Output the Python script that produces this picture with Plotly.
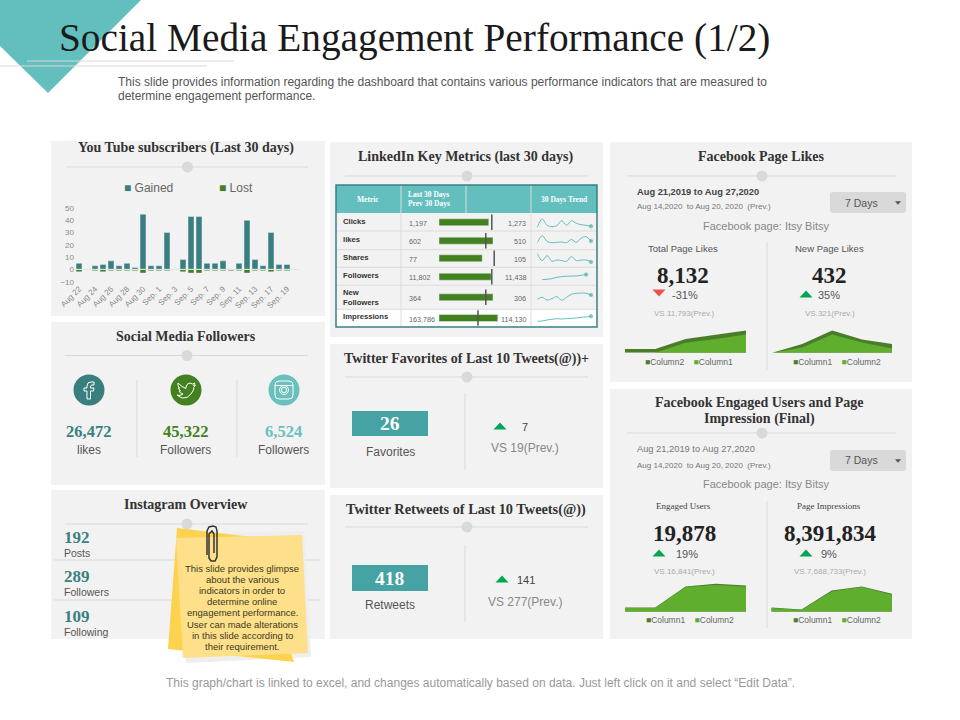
import plotly.graph_objects as go

SANS = "Liberation Sans"
SERIF = "Liberation Serif"
TEAL = "#62bfbd"
DTEAL = "#3a7f80"
GREEN = "#43801f"
LGREEN = "#5fae2e"
PANEL = "#f2f2f2"

# --- youtube
yt_days = ["Aug 22", "Aug 23", "Aug 24", "Aug 25", "Aug 26", "Aug 27", "Aug 28", "Aug 29", "Aug 30", "Aug 31",
           "Sep. 1", "Sep. 2", "Sep. 3", "Sep. 4", "Sep. 5", "Sep. 6", "Sep. 7", "Sep. 8", "Sep. 9", "Sep. 10",
           "Sep. 11", "Sep. 12", "Sep. 13", "Sep. 16", "Sep. 17", "Sep. 18", "Sep. 19"]
yt_gained = [5, 0, 3, 4, 7, 3, 5, 1.5, 45, 3, 3, 30, 0, 8, 43, 43, 5, 5, 7, 0, 5, 40, 8, 3, 30, 4, 4]
yt_lost = [-2, 0, -1, -2, -1, -1, -1, -1, -3, -1, -1, -1, 0, -2, -3, -3, -1, -1, -1, -1, -1, -3, -1, -1, -2, -1, -1]
yt_yticks = [-10, 0, 10, 20, 30, 40, 50]

# --- linkedin table
li_metrics = ["Clicks", "likes", "Shares", "Followers", "New<br>Followers", "Impressions"]
li_last = ["1,197", "602", "77", "11,802", "364", "163,786"]
li_prev = ["1,273", "510", "105", "11,438", "306", "114,130"]
li_fill = [83, 90, 72, 87, 90, 98]
li_mark = [88, 78, 92, 88, 78, 65]
li_trends = [
    [3.7, 12, 5.7, 4.3, 5.3, 10.3, 5.7, 10.3, 7.7, 6.3, 5.7, 4.7],
    [7, 14, 8.3, 7, 7.3, 7.7, 7, 10.3, 7.3, 11.7, 13, 8.7],
    [13.7, 6.7, 11.7, 6, 7.3, 6.7, 6, 10.7, 6.7, 7.3, 7.3, 5.3],
    [None, 5.7, 6, 6.7, 8, 8.7, 9, 9.3, 9.3, 10, 10.7, None],
    [10, 12, 9.3, 10.7, 12.7, 9, 12, 15, 16, 16.3, 16, 14.3],
    [5.7, 6, 7, 7.7, 8.3, 8, 8.3, 8.7, 9, 9.7, 10, 10.7],
]

# --- facebook mini areas
area_days = [0, 1, 2, 3, 4]
likes_total_dark = [3.7, 3.7, 13.7, 17.7, 22.3]
likes_total_light = [0, 0, 10, 13.7, 18.3]
likes_new_dark = [0, 8.7, 22.3, 13.3, 8.7]
likes_new_light = [0, 5.3, 18.3, 10.3, 4.3]
engaged_dark = [4.3, 4.3, 25.3, 28, 26.3]
engaged_light = [3.7, 3.7, 24.7, 26.7, 25.3]
impress_dark = [4.3, 2.3, 21.3, 25.3, 18]
impress_light = [3.7, 1.7, 20.3, 24.7, 17]

followers_vals = ["26,472", "45,322", "6,524"]
followers_lbls = ["likes", "Followers", "Followers"]
insta_vals = ["192", "289", "109"]
insta_lbls = ["Posts", "Followers", "Following"]
note_lines = ["This slide provides glimpse", "about the various", "indicators in order to", "determine online",
              "engagement performance.", "User can made alterations", "in this slide according to",
              "their requirement."]


def X(p):
    return p / 960


def Y(p):
    return 1 - p / 720


fig = go.Figure()
shapes = []
notes = []


def txt(x, y, s, size=10, color="#444", anchor="center", font=SANS, bold=False):
    if bold:
        s = f"<b>{s}</b>"
    notes.append(dict(x=X(x), y=Y(y), xref="paper", yref="paper", text=s, showarrow=False, xanchor=anchor,
                      yanchor="middle", align=anchor, borderpad=0,
                      font=dict(family=font, size=size, color=color)))


def rect(x0, y0, x1, y1, fill):
    shapes.append(dict(type="rect", xref="paper", yref="paper", x0=X(x0), x1=X(x1), y0=Y(y0), y1=Y(y1),
                       fillcolor=fill, line_width=0, layer="below"))


def line(x0, y0, x1, y1, color="#d9d9d9", width=1, layer="below"):
    shapes.append(dict(type="line", xref="paper", yref="paper", x0=X(x0), x1=X(x1), y0=Y(y0), y1=Y(y1),
                       line=dict(color=color, width=width), layer=layer))


def circle(cx, cy, r, fill=None, stroke=None, width=1, layer="below"):
    shapes.append(dict(type="circle", xref="paper", yref="paper", x0=X(cx - r), x1=X(cx + r), y0=Y(cy - r),
                       y1=Y(cy + r), fillcolor=fill or "rgba(0,0,0,0)",
                       line=dict(color=stroke or "rgba(0,0,0,0)", width=width), layer=layer))


def poly(points, fill=None, stroke=None, width=1, layer="below", close=True):
    d = "M" + " L".join(f"{X(a):.5f},{Y(b):.5f}" for a, b in points) + (" Z" if close else "")
    shapes.append(dict(type="path", xref="paper", yref="paper", path=d, fillcolor=fill or "rgba(0,0,0,0)",
                       line=dict(color=stroke or "rgba(0,0,0,0)", width=width), layer=layer))


def round_box(x0, y0, x1, y1, r, fill=None, stroke=None, width=1):
    d = (f"M{X(x0+r)},{Y(y0)} L{X(x1-r)},{Y(y0)} Q{X(x1)},{Y(y0)} {X(x1)},{Y(y0+r)} L{X(x1)},{Y(y1-r)} "
         f"Q{X(x1)},{Y(y1)} {X(x1-r)},{Y(y1)} L{X(x0+r)},{Y(y1)} Q{X(x0)},{Y(y1)} {X(x0)},{Y(y1-r)} "
         f"L{X(x0)},{Y(y0+r)} Q{X(x0)},{Y(y0)} {X(x0+r)},{Y(y0)} Z")
    shapes.append(dict(type="path", xref="paper", yref="paper", path=d, fillcolor=fill or "rgba(0,0,0,0)",
                       line=dict(color=stroke or "rgba(0,0,0,0)", width=width), layer="below"))


def tri(cx, cy, up=True, w=13, h=7, color="#00a651"):
    if up:
        poly([(cx - w / 2, cy + h / 2), (cx + w / 2, cy + h / 2), (cx, cy - h / 2)], fill=color)
    else:
        poly([(cx - w / 2, cy - h / 2), (cx + w / 2, cy - h / 2), (cx, cy + h / 2)], fill=color)


def head(x0, x1, y):
    line(x0, y, x1, y)
    circle((x0 + x1) / 2 + 0.5, y, 5.5, fill="#d9d9d9")


axis_no = 1


def add_axes(x0, x1, y0, y1, xr, yr):
    global axis_no
    axis_no += 1
    fig.update_layout({
        f"xaxis{axis_no}": dict(domain=[X(x0), X(x1)], range=xr, visible=False, fixedrange=True,
                                anchor=f"y{axis_no}"),
        f"yaxis{axis_no}": dict(domain=[Y(y1), Y(y0)], range=yr, visible=False, fixedrange=True,
                                anchor=f"x{axis_no}"),
    })
    return f"x{axis_no}", f"y{axis_no}"


# header
poly([(0, 0), (141, 0), (48, 93), (0, 46)], fill=TEAL)
line(27, 61, 234, 61)
line(0, 66, 207, 66)
txt(58, 37.5, "Social Media Engagement Performance (1/2)", 39.3, "#1a1a1a", "left", SERIF)
txt(117, 82, "This slide provides information regarding the dashboard that contains various performance indicators that are measured to", 12, "#555", "left")
txt(117, 96, "determine engagement performance.", 12, "#555", "left")
txt(480, 683, "This graph/chart is linked to excel, and changes automatically based on data. Just left click on it and select “Edit Data”.", 12, "#999")

# panels
for box in [(51, 141, 325, 316), (51, 322, 325, 485), (51, 490, 325, 639), (330, 142, 603, 337),
            (330, 344, 603, 488), (330, 495, 603, 639), (610, 142, 912, 382), (610, 389, 912, 639)]:
    rect(*box, PANEL)

# youtube
txt(186, 147.5, "You Tube subscribers (Last 30 days)", 14, "#333", font=SERIF, bold=True)
head(66, 308, 167)
txt(123, 188, f"<span style='color:{DTEAL}'>■</span> Gained", 12, "#666", "left")
txt(218, 188, f"<span style='color:{GREEN}'>■</span> Lost", 12, "#666", "left")
fig.add_trace(go.Bar(x=yt_days, y=yt_gained, width=0.75, marker_color=DTEAL, name="Gained"))
fig.add_trace(go.Bar(x=yt_days, y=yt_lost, width=0.75, marker_color=GREEN, name="Lost"))
fig.update_layout(
    xaxis=dict(domain=[X(75), X(299)], range=[-0.5, 27.5], type="category", categoryorder="array",
               categoryarray=yt_days, tickvals=yt_days[::2], ticktext=yt_days[::2], tickangle=-45,
               showgrid=False, showline=False, ticks="", fixedrange=True,
               tickfont=dict(family=SANS, size=8, color="#8a8a8a"), anchor="y"),
    yaxis=dict(domain=[Y(281.7), Y(208)], range=[-10, 50], tickvals=yt_yticks, showgrid=False, zeroline=False,
               showline=False, ticks="", fixedrange=True, tickfont=dict(family=SANS, size=8, color="#8a8a8a"),
               anchor="x"),
)
shapes.append(dict(type="line", xref="x", yref="y", x0=-0.5, x1=27.5, y0=0, y1=0,
                   line=dict(color="#e3e3e3", width=1), layer="above"))

# social followers
txt(186, 336.5, "Social Media Followers", 14, "#333", font=SERIF, bold=True)
head(65, 308, 355.5)
follower_x = [89, 186, 284]
follower_col = [DTEAL, GREEN, "#69c0bd"]
for cx, col, v, l in zip(follower_x, follower_col, followers_vals, followers_lbls):
    circle(cx, 390, 15.5, fill=col)
    txt(cx - 0.5, 431, v, 16.5, col, font=SERIF, bold=True)
    txt(cx - 0.5, 450, l, 12, "#555")
line(137, 380, 137, 457)
line(237, 380, 237, 457)
fx = 89
poly([(fx + a, 390 + b) for a, b in [(-2, 9), (-2, 1), (-5, 1), (-5, -2), (-2, -2), (-2, -4), (-1, -7), (2, -8),
                                     (5, -8), (5, -5), (3, -5), (1.5, -4), (1.5, -2), (5, -2), (4.5, 1), (1.5, 1),
                                     (1.5, 9)]], stroke="white")
poly([(186 + a, 390 + b) for a, b in [(-9, 5), (-6, 5.5), (-3, 4), (-5.5, 3), (-7, 1), (-5.5, 1), (-8, -2),
                                      (-6.5, -1.8), (-8, -4.5), (-8, -7), (-4, -3.5), (0, -1.5), (0, -3), (1.5, -6),
                                      (4, -7), (6.5, -6), (9, -7), (7.5, -4.5), (9.5, -5), (8, -3), (7.5, 0), (5, 4),
                                      (1, 7.5), (-4, 8)]], stroke="white")
round_box(275, 381, 293, 399, 4, stroke="white")
circle(284, 390, 4.5, stroke="white")
circle(284, 390, 2.7, stroke="white")
line(275, 385.5, 293, 385.5, color="white")

# instagram
txt(186, 504.5, "Instagram Overview", 14, "#333", font=SERIF, bold=True)
head(65, 308, 524)
line(54, 560, 320, 560)
line(54, 600, 320, 600)
for y, v, l in zip([537, 576, 616], insta_vals, insta_lbls):
    txt(63, y, v, 17, DTEAL, "left", SERIF, True)
    txt(63, y + 16, l, 10.5, "#555", "left")

# sticky note
poly([(180, 534), (304, 531), (311, 657), (186, 663)], fill="#eeeeee")
poly([(177, 528), (252, 537), (294, 662), (168, 649)], fill="#fcd24f")
poly([(176, 538), (302, 535), (308, 653), (183, 658)], fill="#fee08b")
poly([(207, 555), (207, 531), (209, 527), (213, 526), (216, 527), (217, 531), (217, 557), (215, 561), (211, 561),
      (209, 558), (209, 534), (212, 531), (214, 534), (214, 553)], stroke="#333", width=1.5, close=False)
for i, t in enumerate(note_lines):
    txt(242, 568 + i * 11.2, t, 9.5, "#3a3a20")

# linkedin
txt(465, 156.5, "LinkedIn Key Metrics (last 30 days)", 14, "#333", font=SERIF, bold=True)
head(345, 588, 176)
row_edges = [213, 231, 249.7, 267.3, 285.3, 309.3, 327]
rect(336, 309.3, 597, 327, "white")
rect(336, 185, 597, 213, TEAL)
for y in row_edges[1:-1]:
    line(336, y, 597, y, color="#dcdcdc")
for x in [401, 531]:
    line(x, 185, x, 327, color="#dcdcdc")
line(466, 185, 466, 213, color="#dcdcdc")
poly([(336, 185), (597, 185), (597, 327), (336, 327)], stroke="#3d8082", width=1.5)
txt(368, 199, "Metric", 7.5, "white", font=SERIF, bold=True)
txt(407, 195, "Last 30 Days", 7.5, "white", "left", SERIF, True)
txt(407, 203.5, "Prev 30 Days", 7.5, "white", "left", SERIF, True)
txt(564, 199, "30 Days Trend", 7.5, "white", font=SERIF, bold=True)
bar_centers = [222.3, 240.7, 258.3, 276.7, 297.3, 318]
text_y = [221.5, 239.5, 257.5, 275, 297.5, 316.5]
for y, by, m, a, b in zip(text_y, bar_centers, li_metrics, li_last, li_prev):
    txt(342, y, m, 7.7, "#333", "left", bold=True)
    txt(408, by + 1, a, 7.2, "#666", "left")
    txt(527, by + 1, b, 7.2, "#666", "right")
xa, ya = add_axes(439, 499, 213, 327, [0, 100], [327, 213])
fig.add_trace(go.Bar(x=li_fill, y=bar_centers, orientation="h", width=7, marker_color=GREEN, xaxis=xa, yaxis=ya))
fig.add_trace(go.Scatter(x=li_mark, y=bar_centers, mode="markers", xaxis=xa, yaxis=ya,
                         marker=dict(symbol="line-ns", size=11, line=dict(color="#555", width=1.5))))
for i, trend in enumerate(li_trends):
    xa, ya = add_axes(537.3, 591, row_edges[i], row_edges[i + 1], [0, 11], [0, row_edges[i + 1] - row_edges[i]])
    sizes = [0] * 12
    last = max(k for k, v in enumerate(trend) if v is not None)
    sizes[last] = 3.5
    fig.add_trace(go.Scatter(x=list(range(12)), y=trend, mode="lines+markers", xaxis=xa, yaxis=ya, cliponaxis=False,
                             line=dict(color=TEAL, width=1, shape="spline"),
                             marker=dict(size=sizes, color="#4fa5a3")))

# twitter favourites
txt(466, 358.5, "Twitter Favorites of Last 10 Tweets(@))+", 14, "#333", font=SERIF, bold=True)
head(345, 588, 377)
rect(352, 411, 428, 436, "#45a3a3")
txt(390, 423.5, "26", 19.5, "white", font=SERIF, bold=True)
txt(390, 452, "Favorites", 12, "#555")
line(465, 393, 465, 470)
tri(500, 426)
txt(525, 427, "7", 11, "#444")
txt(525, 448, "VS 19(Prev.)", 12, "#888")

# twitter retweets
txt(466, 509.5, "Twitter Retweets of Last 10 Tweets(@))", 14.3, "#333", font=SERIF, bold=True)
head(345, 588, 527)
rect(352, 565, 428, 591, "#45a3a3")
txt(390, 578, "418", 19.5, "white", font=SERIF, bold=True)
txt(390, 605, "Retweets", 12, "#555")
line(465, 545, 465, 622)
tri(502, 579)
txt(526, 580, "141", 11, "#444")
txt(525, 602, "VS 277(Prev.)", 12, "#888")


def mini_area(x0, x1, base, dark, light):
    xa, ya = add_axes(x0, x1, base - 30, base, [0, 4], [0, 30])
    fig.add_trace(go.Scatter(x=area_days, y=dark, mode="lines", fill="tozeroy", line_width=0, fillcolor="#4a7c2a",
                             xaxis=xa, yaxis=ya))
    fig.add_trace(go.Scatter(x=area_days, y=light, mode="lines", fill="tozeroy", line_width=0, fillcolor=LGREEN,
                             xaxis=xa, yaxis=ya))


def mini_legend(cx, y, a, b):
    txt(cx, y, f"<span style='color:#4a7c2a'>■</span>{a}    <span style='color:{LGREEN}'>■</span>{b}", 8.5, "#666")


def dropdown(y0, y1):
    round_box(830, y0, 906, y1, 3, fill="#d9d9d9")
    txt(861, (y0 + y1) / 2, "7 Days", 10.5, "#555")
    tri(898, (y0 + y1) / 2 + 0.5, up=False, w=6, h=3.5, color="#555")


# facebook likes
txt(761, 156.5, "Facebook Page Likes", 14, "#333", font=SERIF, bold=True)
head(627, 896, 176)
txt(636, 192, "Aug 21,2019 to Aug 27,2020", 9.3, "#444", "left", bold=True)
txt(636, 207, "Aug 14,2020  to Aug 20, 2020  (Prev.)", 8, "#777", "left")
dropdown(192, 213)
txt(766, 226, "Facebook page: Itsy Bitsy", 11, "#888")
line(767, 242, 767, 370)
txt(683, 248, "Total Page Likes", 9.5, "#555")
txt(829, 248, "New Page Likes", 9.5, "#555")
txt(683, 275, "8,132", 23, "#222", font=SERIF, bold=True)
txt(829, 275, "432", 23, "#222", font=SERIF, bold=True)
tri(659, 293, up=False, color="#ee4f4f")
txt(685, 295, "-31%", 11, "#555")
tri(806, 294)
txt(829, 295, "35%", 11, "#555")
txt(684, 313, "VS.11,793(Prev.)", 8, "#aaa")
txt(830, 313, "VS.321(Prev.)", 8, "#aaa")
mini_area(625, 746, 352.7, likes_total_dark, likes_total_light)
mini_area(772.3, 892, 352.7, likes_new_dark, likes_new_light)
mini_legend(689, 362, "Column2", "Column1")
mini_legend(837, 362, "Column1", "Column2")

# facebook engaged
txt(759, 402.5, "Facebook Engaged Users and Page", 14, "#333", font=SERIF, bold=True)
txt(759, 418.5, "Impression (Final)", 14, "#333", font=SERIF, bold=True)
head(627, 896, 433)
txt(636, 449, "Aug 21,2019 to Aug 27,2020", 9.3, "#777", "left")
txt(636, 465, "Aug 14,2020  to Aug 20, 2020  (Prev.)", 8, "#777", "left")
dropdown(450, 471)
txt(766, 484, "Facebook page: Itsy Bitsy", 11, "#888")
line(767, 501, 767, 628)
txt(683, 506, "Engaged Users", 9, "#444", font=SERIF)
txt(829, 506, "Page Impressions", 9, "#444", font=SERIF)
txt(684, 533, "19,878", 23, "#222", font=SERIF, bold=True)
txt(830, 533, "8,391,834", 23, "#222", font=SERIF, bold=True)
tri(659, 553)
txt(687, 554, "19%", 11, "#555")
tri(806, 553)
txt(829, 554, "9%", 11, "#555")
txt(684, 571, "VS.16,841(Prev.)", 8, "#aaa")
txt(830, 571, "VS.7,688,733(Prev.)", 8, "#aaa")
mini_area(625, 746, 611.7, engaged_dark, engaged_light)
mini_area(771.3, 892, 611.7, impress_dark, impress_light)
mini_legend(690, 620, "Column1", "Column2")
mini_legend(837, 620, "Column1", "Column2")

fig.update_layout(width=960, height=720, margin=dict(l=0, r=0, t=0, b=0, autoexpand=False), autosize=False,
                  paper_bgcolor="white", plot_bgcolor="rgba(0,0,0,0)", barmode="overlay", showlegend=False,
                  shapes=shapes, annotations=notes, font=dict(family=SANS))
fig.write_html("out.html", config={"displayModeBar": False},
               post_script="document.body.style.margin='0';document.documentElement.style.overflow='hidden';")
